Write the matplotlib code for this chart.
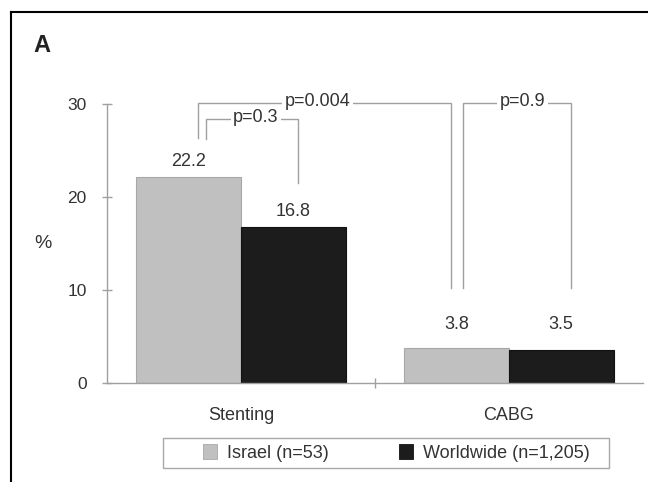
import matplotlib
matplotlib.use("Agg")
import matplotlib.pyplot as plt
from matplotlib.lines import Line2D
from matplotlib.patches import Rectangle, Patch

plt.rcParams['font.family'] = ['Liberation Sans', 'DejaVu Sans']

# ---- data ----
categories = ["Stenting", "CABG"]
series_names = ["Israel (n=53)", "Worldwide (n=1,205)"]
israel = [22.2, 3.8]
worldwide = [16.8, 3.5]
value_labels = ["22.2", "16.8", "3.8", "3.5"]
y_ticks = [0, 10, 20, 30]

# significance brackets: (x_left, x_right, y_top, y_left_bottom, y_right_bottom, label, label_x)
brackets = [
    (-0.160, 0.784, 30.1, 26.3, 10.2, "p=0.004", 0.287),
    (-0.131, 0.213, 28.4, 26.2, 21.5, "p=0.3", 0.056),
    (0.828, 1.231, 30.1, 10.2, 10.2, "p=0.9", 1.049),
]

grey = "#c0c0c0"
black = "#1c1c1c"
axis_col = "#a0a0a0"
text_col = "#333333"
fs = 13

fig = plt.figure(figsize=(6.48, 4.82), dpi=100)
ax = fig.add_axes([107/648, 1-383/482, 536/648, 279/482])

x = [0, 1]
off = 0.195
w = 0.39
b1 = ax.bar([xi - off for xi in x], israel, w, color=grey, edgecolor="#a8a8a8", linewidth=0.8)
b2 = ax.bar([xi + off for xi in x], worldwide, w, color=black, edgecolor="#111111", linewidth=0.8)

ax.set_xlim(-0.5, 1.5)
ax.set_ylim(0, 30)

# value labels
label_offsets = [11, 11, 17, 19]
bars = [b1[0], b2[0], b1[1], b2[1]]
for bar, lab, dy in zip(bars, value_labels, label_offsets):
    ax.annotate(lab, (bar.get_x() + bar.get_width()/2, bar.get_height()),
                xytext=(0, dy), textcoords="offset points",
                ha="center", va="center", fontsize=fs, color=text_col)

# brackets
for xl, xr, yt, ylb, yrb, lab, lx in brackets:
    ax.plot([xl, xl, xr, xr], [ylb, yt, yt, yrb], color=axis_col, lw=1.0,
            clip_on=False, solid_joinstyle="miter")
    ax.text(lx, yt + 0.2, lab, ha="center", va="center", fontsize=fs, color=text_col,
            bbox=dict(facecolor="white", edgecolor="none", pad=2.0), clip_on=False)

# axes styling
for s in ["top", "right"]:
    ax.spines[s].set_visible(False)
for s in ["left", "bottom"]:
    ax.spines[s].set_color(axis_col)
    ax.spines[s].set_linewidth(1.0)

ax.set_yticks(y_ticks)
ax.set_yticklabels([str(t) for t in y_ticks], fontsize=12.5, color=text_col)
ax.tick_params(axis="y", direction="inout", length=7, width=1.0, color=axis_col, pad=11)

ax.set_xticks(x)
ax.set_xticklabels(categories, fontsize=fs, color=text_col)
ax.tick_params(axis="x", which="major", length=0, pad=17)
ax.set_xticks([0.5], minor=True)
ax.tick_params(axis="x", which="minor", direction="inout", length=7, width=1.0, color=axis_col)

ax.set_ylabel("%", rotation=0, fontsize=14, color=text_col, va="center", ha="center")
ax.yaxis.set_label_coords(-0.119, 0.5)

# panel letter
fig.text(42/648, 1-46/482, "A", fontsize=17, fontweight="bold", color="#222222",
         ha="center", va="center")

# legend with frame
fig.patches.append(Rectangle((163/648, 1-468/482), 446/648, 30/482, transform=fig.transFigure,
                             facecolor="white", edgecolor="#a8a8a8", linewidth=1.0))
handles = [Patch(facecolor=grey, edgecolor="#a8a8a8", linewidth=0.6),
           Patch(facecolor=black, edgecolor="#111111", linewidth=0.6)]
leg = fig.legend(handles, series_names, loc="center left",
                 bbox_to_anchor=(203/648, 1-453/482), frameon=False, ncol=2,
                 fontsize=fs, borderpad=0, borderaxespad=0,
                 handlelength=0.78, handleheight=0.94, handletextpad=0.55,
                 columnspacing=3.9)
for t in leg.get_texts():
    t.set_color(text_col)

# border lines
fig.add_artist(Line2D([11/648, 1], [1-12/482, 1-12/482], transform=fig.transFigure,
                      color="black", lw=1.5))
fig.add_artist(Line2D([11/648, 11/648], [0, 1-12/482], transform=fig.transFigure,
                      color="black", lw=1.5))

fig.savefig("out.png", dpi=100)
